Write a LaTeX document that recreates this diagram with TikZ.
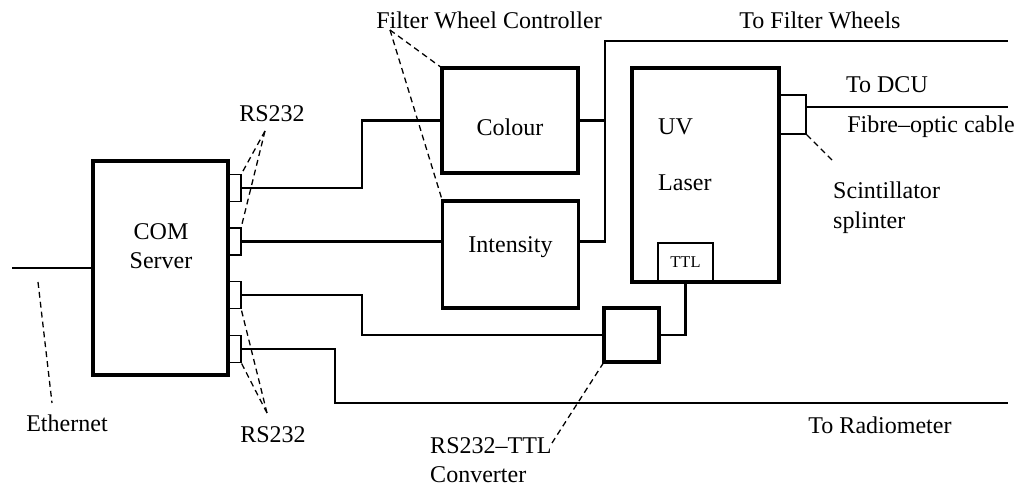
\documentclass[tikz,border=0pt]{standalone}
\usepackage{fontspec}
\setmainfont{Liberation Serif}
\usetikzlibrary{positioning}
\begin{document}
\begin{tikzpicture}[x=0.03cm,y=-0.03cm,line join=miter,
    box/.style={draw,line width=3pt,inner sep=0pt,outer sep=0pt},
    port/.style={draw,line width=1.4pt,inner sep=0pt,outer sep=0pt},
    wire/.style={line width=2pt},
    lead/.style={line width=1.1pt,dash pattern=on 5pt off 3.5pt},
    txt/.style={font=\fontsize{20.5}{25}\selectfont,inner sep=0pt}]
    \useasboundingbox (0,0) rectangle (1024,488);
    % boxes
    \node[box,minimum width=4.05cm,minimum height=6.42cm] (com) at (160.5,268) {};
    \node[box,minimum width=4.08cm,minimum height=3.15cm] (colour) at (510,120.5) {};
    \node[box,minimum width=4.08cm,minimum height=3.2cm] (intens) at (510.5,254.5) {};
    \node[box,minimum width=1.65cm,minimum height=1.62cm] (conv) at (631.5,335) {};
    \node[box,minimum width=4.41cm,minimum height=6.42cm] (laser) at (705.5,175) {};
    \node[port,minimum width=1.65cm,minimum height=1.17cm,font=\fontsize{14}{16}\selectfont] (ttl) at (685.5,262.5) {TTL};
    \node[port,minimum width=0.81cm,minimum height=1.17cm] (splint) at (792.5,114.5) {};
    \foreach \i/\y in {1/188,2/241.5,3/295,4/349}
        \node[port,minimum width=0.39cm,minimum height=0.8cm] (p\i) at (234.5,\y) {};
    % texts
    \node[txt,align=center] (comlbl) at (161,246) {COM\\Server};
    \node[txt] (colourlbl) at (510,127) {Colour};
    \node[txt] (intenslbl) at (510.5,247) {Intensity};
    \node[txt,anchor=west] (uvlbl) at (658,127) {UV};
    \node[txt,anchor=west] (laserlbl) at (658,183) {Laser};
    \node[txt] (fwclbl) at (489,20) {Filter Wheel Controller};
    \node[txt] (fwlbl) at (820,20) {To Filter Wheels};
    \node[txt] (rstop) at (272,114) {RS232};
    \node[txt] (rsbot) at (273,435) {RS232};
    \node[txt] (ethlbl) at (67,423) {Ethernet};
    \node[txt,align=left,anchor=north west] (convlbl) at (430,437) {RS232--TTL\\Converter};
    \node[txt] (dculbl) at (887,85) {To DCU};
    \node[txt] (fibrelbl) at (931,127) {Fibre--optic cable};
    \node[txt,align=left,anchor=north west] (splintlbl) at (833,182) {Scintillator\\splinter};
    \node[txt] (radlbl) at (880,425) {To Radiometer};
    % wire ends
    \coordinate (ethend) at (12,268);
    \coordinate (fwbus) at (605,41);
    \coordinate (fwend) at (1008,41);
    \coordinate (dcuend) at (1008,107);
    \coordinate (radend) at (1008,403);
    % wires
    \draw[wire] (ethend) -- (com.west);
    \draw[wire] (p1.east) -- (362,188) |- (colour.west);
    \draw[wire] (p2.east) -- (p2.east -| intens.west);
    \draw[wire] (p3.east) -- (362,295) |- (conv.west);
    \draw[wire] (p4.east) -- (335,349) |- (radend);
    \draw[wire] (colour.east) -- (colour.east -| fwbus);
    \draw[wire] (p2.east -| intens.east) -| (fwbus) -- (fwend);
    \draw[wire] (conv.east) -| (ttl.south);
    \draw[wire] (dcuend -| splint.east) -- (dcuend);
    % leaders
    \coordinate (fwctip) at (390,30);
    \coordinate (rstoptip) at (265,131);
    \coordinate (rsbottip) at (267,413);
    \coordinate (ethtip) at (38,282);
    \coordinate (convtip) at (552,443);
    \coordinate (splinttip) at (832,160);
    \draw[lead] (fwctip) -- (colour.north west);
    \draw[lead] (fwctip) -- (intens.north west);
    \draw[lead] (rstoptip) -- (p1.north east);
    \draw[lead] (rstoptip) -- (p2.north east);
    \draw[lead] (rsbottip) -- (p3.south east);
    \draw[lead] (rsbottip) -- (p4.south east);
    \draw[lead] (ethtip) -- (52,403);
    \draw[lead] (convtip) -- (conv.south west);
    \draw[lead] (splinttip) -- (splint.south east);
\end{tikzpicture}
\end{document}
